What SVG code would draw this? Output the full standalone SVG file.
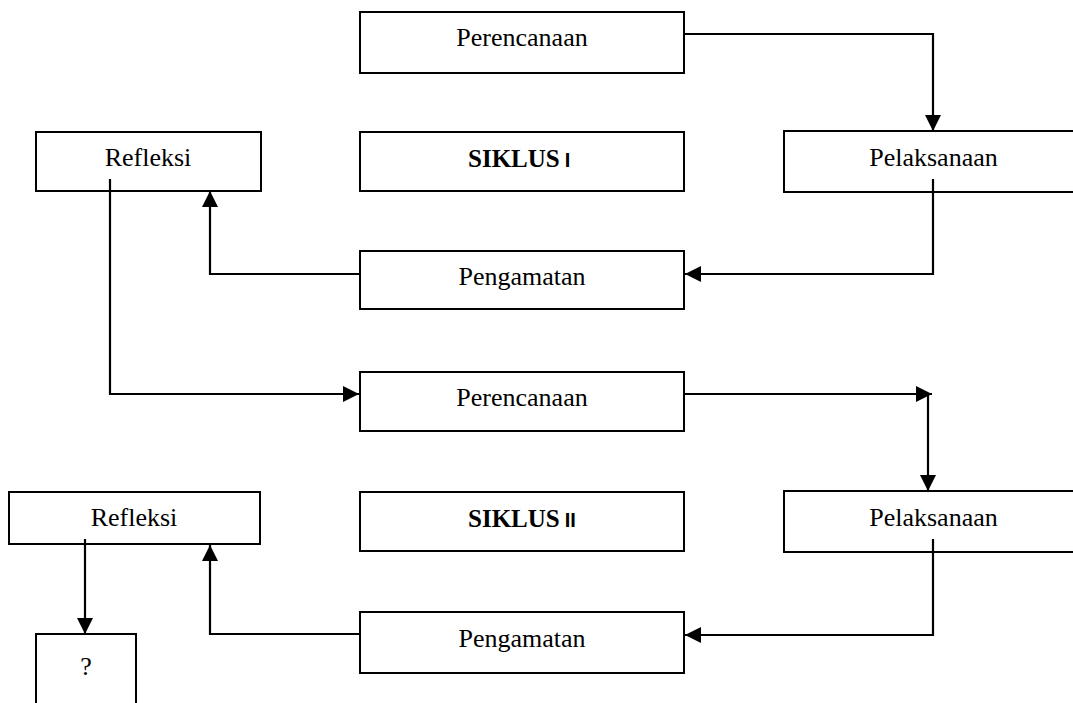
<svg xmlns="http://www.w3.org/2000/svg" width="1073" height="703" viewBox="0 0 1073 703">
<style>
.box{fill:#fff;stroke:#000;stroke-width:2}
.lbl{font-family:"Liberation Serif","Times New Roman",serif;font-size:26px;fill:#000;text-anchor:middle}
.bold{font-family:"Liberation Serif","Times New Roman",serif;font-size:25px;font-weight:bold;fill:#000}
.num{font-family:"Liberation Sans",Arial,sans-serif;font-size:20px;font-weight:bold}
.con{fill:none;stroke:#000;stroke-width:2.2}
</style>
<defs>
<marker id="arr" markerUnits="userSpaceOnUse" markerWidth="17" markerHeight="17" refX="16" refY="8" orient="auto">
<path d="M0,0 L16,8 L0,16 z" fill="#000"/>
</marker>
</defs>
<rect width="1073" height="703" fill="#fff"/>
<g id="perencanaan1"><rect class="box" x="360" y="12" width="324" height="61"/><text class="lbl" x="522" y="46">Perencanaan</text></g>
<g id="siklus1"><rect class="box" x="360" y="132" width="324" height="59"/><text class="bold" x="468" y="167">SIKLUS<tspan class="num" dx="5">I</tspan></text></g>
<g id="refleksi1"><rect class="box" x="36" y="132" width="225" height="59"/><text class="lbl" x="148" y="166">Refleksi</text></g>
<g id="pelaksanaan1"><rect class="box" x="784" y="131" width="300" height="61"/><text class="lbl" x="933.5" y="166">Pelaksanaan</text></g>
<g id="pengamatan1"><rect class="box" x="360" y="251" width="324" height="58"/><text class="lbl" x="522" y="285">Pengamatan</text></g>
<g id="perencanaan2"><rect class="box" x="360" y="372" width="324" height="59"/><text class="lbl" x="522" y="406">Perencanaan</text></g>
<g id="siklus2"><rect class="box" x="360" y="492" width="324" height="59"/><text class="bold" x="468" y="527">SIKLUS<tspan class="num" dx="5">II</tspan></text></g>
<g id="refleksi2"><rect class="box" x="9" y="492" width="251" height="52"/><text class="lbl" x="134" y="526">Refleksi</text></g>
<g id="pelaksanaan2"><rect class="box" x="784" y="491" width="300" height="61"/><text class="lbl" x="933.5" y="526">Pelaksanaan</text></g>
<g id="pengamatan2"><rect class="box" x="360" y="612" width="324" height="61"/><text class="lbl" x="522" y="647">Pengamatan</text></g>
<g id="hasil"><rect class="box" x="36" y="634" width="100" height="80"/><text class="lbl" x="86" y="675">?</text></g>
<g id="connectors">
<path class="con" d="M684,34 H933 V131" marker-end="url(#arr)"/>
<path class="con" d="M933,179 V274 H685" marker-end="url(#arr)"/>
<path class="con" d="M360,274 H210 V191" marker-end="url(#arr)"/>
<path class="con" d="M110,179 V394 H359" marker-end="url(#arr)"/>
<path class="con" d="M684,394 H932" marker-end="url(#arr)"/>
<path class="con" d="M928,394 V491" marker-end="url(#arr)"/>
<path class="con" d="M933,539 V635 H685" marker-end="url(#arr)"/>
<path class="con" d="M360,634 H210 V545" marker-end="url(#arr)"/>
<path class="con" d="M85,539 V634" marker-end="url(#arr)"/>
</g>
</svg>
